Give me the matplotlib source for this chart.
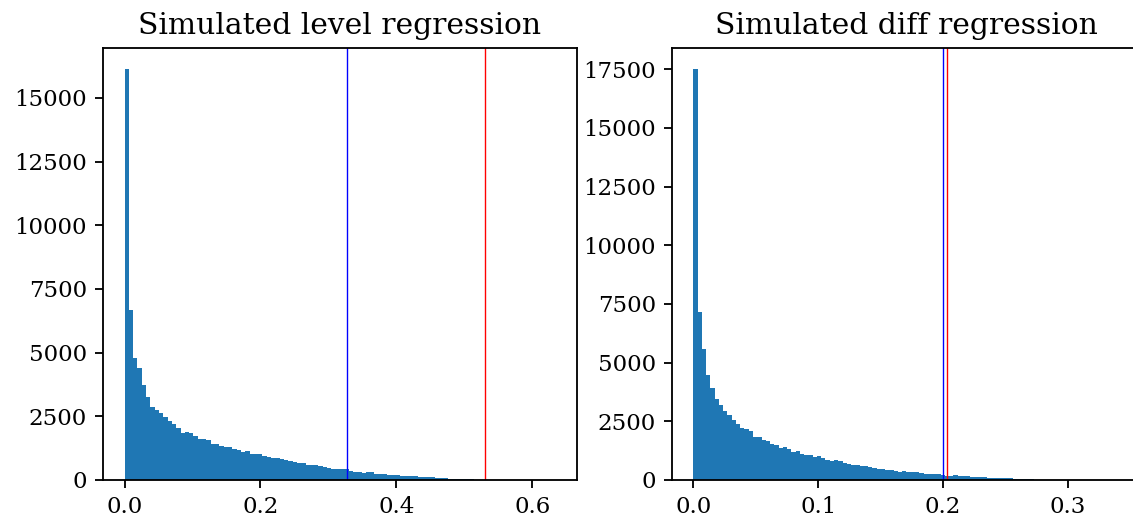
import matplotlib
matplotlib.use('Agg')
import matplotlib.pyplot as plt
import numpy as np

plt.rcParams['font.family'] = 'serif'
plt.rcParams['font.serif'] = ['DejaVu Serif']

# histogram counts (100 bins each)
level_counts = [16150, 6659, 4807, 4413, 3743, 3270, 2876, 2758, 2640, 2482,
                2325, 2206, 2049, 1852, 1891, 1852, 1734, 1615, 1615, 1576,
                1418, 1418, 1340, 1300, 1300, 1221, 1182, 1103, 1143, 1024,
                1024, 1024, 946, 906, 867, 867, 827, 788, 749, 709,
                670, 650, 591, 591, 591, 552, 512, 473, 433, 420,
                433, 433, 355, 315, 315, 276, 315, 315, 236, 236,
                236, 197, 197, 180, 158, 158, 158, 158, 118, 118,
                118, 118, 79, 70, 60, 50, 40, 34, 28, 23,
                19, 16, 13, 11, 9, 7, 6, 5, 4, 3,
                3, 2, 2, 1, 1, 1, 0, 1, 0, 1]
level_max = 0.634
level_lines = [0.328, 0.530]

diff_counts = [17530, 7167, 5588, 4479, 3925, 3455, 3200, 2944, 2773, 2560,
               2389, 2218, 2176, 2090, 1834, 1834, 1706, 1664, 1536, 1493,
               1365, 1408, 1322, 1194, 1237, 1109, 1067, 1067, 981, 1024,
               939, 853, 811, 853, 811, 725, 683, 640, 640, 597,
               597, 555, 512, 469, 469, 427, 427, 384, 360, 384,
               341, 341, 320, 290, 256, 240, 256, 256, 213, 190,
               180, 213, 171, 171, 150, 128, 128, 128, 128, 85,
               85, 85, 80, 75, 70, 45, 60, 35, 28, 22,
               18, 14, 11, 9, 8, 6, 5, 4, 3, 3,
               2, 2, 1, 1, 1, 0, 1, 0, 0, 1]
diff_max = 0.3413
diff_lines = [0.1997, 0.2029]

fig = plt.figure(figsize=(1133/165, 518/165), dpi=165)
ax1 = fig.add_axes([0.0909, 0.0734, 0.4184, 0.834])
ax2 = fig.add_axes([0.5931, 0.0734, 0.4139, 0.834])

for ax, counts, top, lines, title in [
        (ax1, level_counts, level_max, level_lines, 'Simulated level regression'),
        (ax2, diff_counts, diff_max, diff_lines, 'Simulated diff regression')]:
    edges = np.linspace(0, top, len(counts) + 1)
    ax.hist(edges[:-1], bins=edges, weights=counts)
    ax.axvline(lines[0], color='b', lw=0.6)
    ax.axvline(lines[1], color='r', lw=0.6)
    ax.set_title(title, fontsize=13)

ax1.set_yticks(np.arange(0, 15001, 2500))
ax2.set_xticks([0.0, 0.1, 0.2, 0.3])

fig.savefig('out.png', dpi=165)
